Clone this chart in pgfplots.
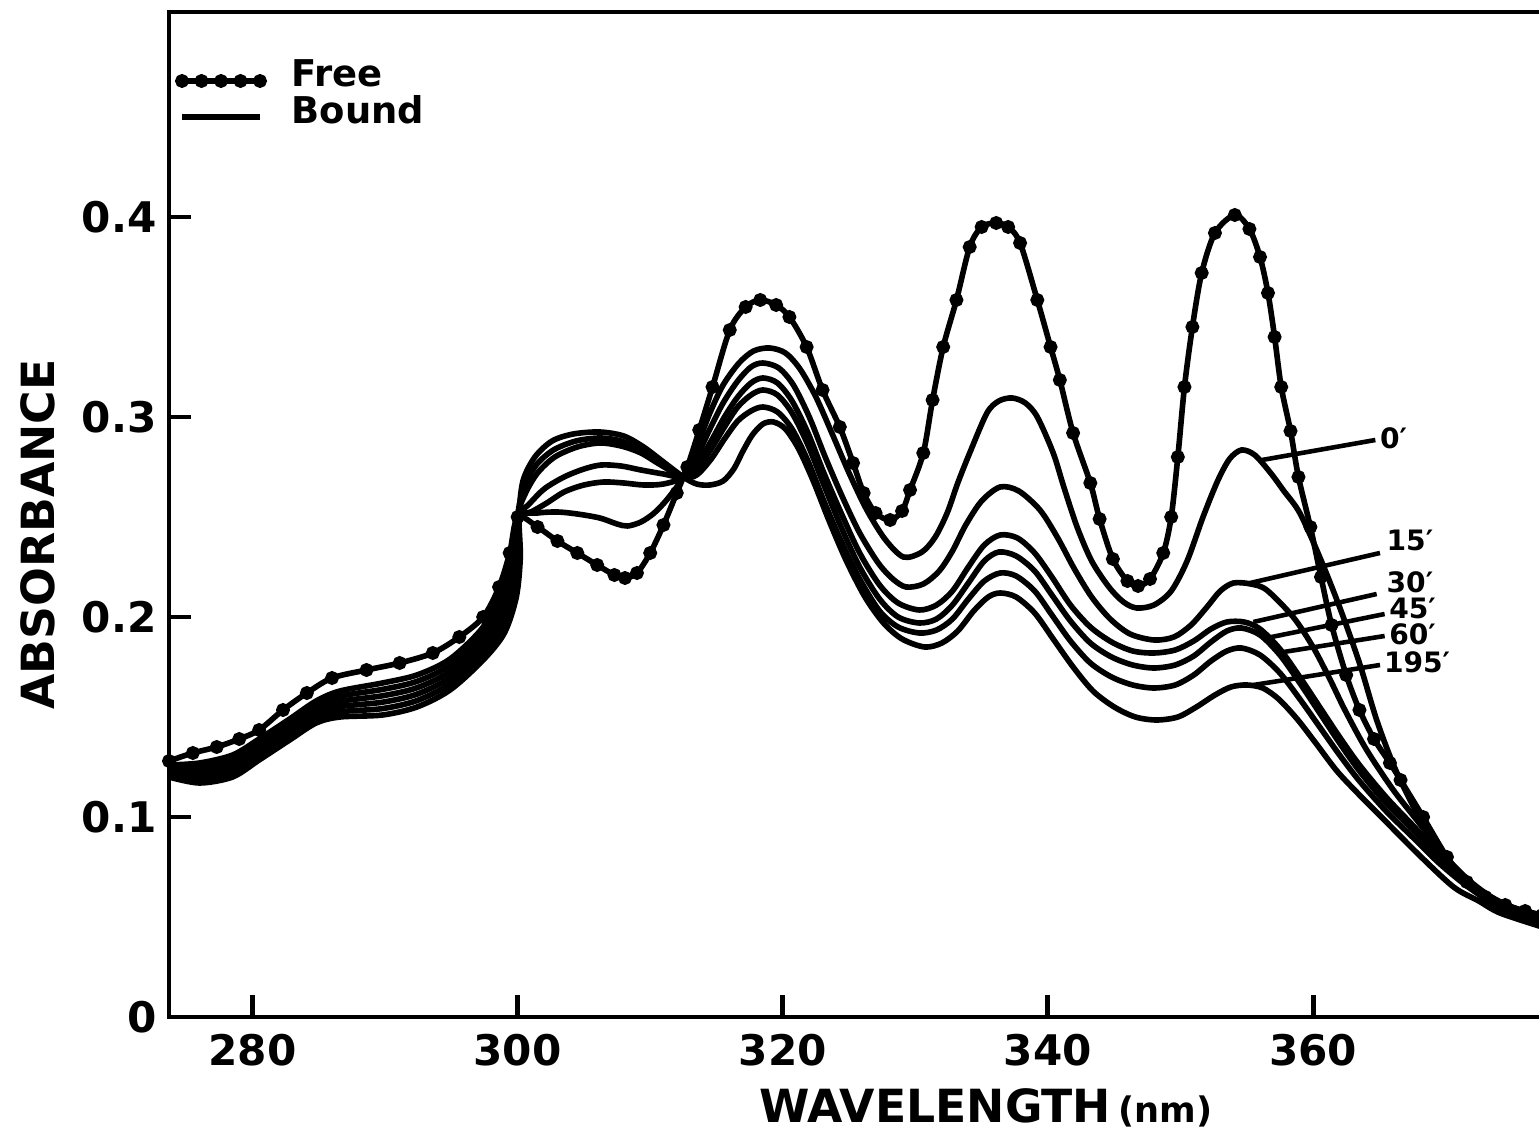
\documentclass[border=0pt]{standalone}
\usepackage{fontspec}
\setmainfont{DejaVu Sans}
\usepackage{pgfplots}
\pgfplotsset{compat=1.18}

\begin{document}
\begin{tikzpicture}
\useasboundingbox (-1.69cm,-1.29cm) rectangle (13.7cm,10.17cm);
\begin{axis}[
  scale only axis, width=13.8cm, height=10.05cm,
  xmin=273.7, xmax=377.8, ymin=0, ymax=0.5025,
  axis line style={line width=1.4pt},
  tick align=inside, major tick length=0.22cm, tick pos=left,
  tick style={line width=1.4pt, black},
  xtick={280,300,320,340,360}, xticklabels={280,300,320,340,360},
  ytick={0,0.1,0.2,0.3,0.4}, yticklabels={0,0.1,0.2,0.3,0.4},
  ticklabel style={font=\bfseries\fontsize{12}{14}\selectfont},
  xticklabel style={yshift=-0.05cm},
  xlabel={WAVELENGTH\,{\fontsize{10}{12}\selectfont(nm)}},
  ylabel={ABSORBANCE},
  label style={font=\bfseries\fontsize{13}{15}\selectfont},
  xlabel style={at={(axis description cs:0.592,-0.0905)}, anchor=center},
  ylabel style={at={(axis description cs:-0.0949,0.48)}, anchor=center},
  legend style={at={(axis description cs:0.006,0.96)}, anchor=north west, draw=none, fill=none,
     font=\bfseries\fontsize{10.5}{12}\selectfont, inner sep=0pt, row sep=-3pt},
  legend cell align=left,
  legend image code/.code={\draw[#1] plot coordinates {(0cm,-0.05cm) (0.195cm,-0.05cm) (0.39cm,-0.05cm) (0.585cm,-0.05cm) (0.78cm,-0.05cm)}; \path (1.0cm,0cm);},
  every axis plot/.append style={line width=1.6pt, black, smooth, tension=0.5},
  clip=false,
]
% Free
\addplot[mark=*, mark size=1.15pt] coordinates {(273.7,0.128)(275.5,0.132)(277.3,0.135)(279,0.139)(280.5,0.1435)(282.3,0.1535)(284.1,0.162)(286,0.1695)(288.6,0.1735)(291.1,0.177)(293.6,0.182)(295.6,0.19)(297.4,0.2)(298.6,0.215)(299.4,0.232)(300,0.25)(301.5,0.245)(303,0.238)(304.5,0.232)(306,0.226)(307.3,0.221)(308.1,0.2195)(309,0.222)(310,0.232)(311,0.246)(312,0.262)(312.8,0.275)(313.7,0.2935)(314.7,0.315)(316,0.3435)(317.2,0.355)(318.3,0.3585)(319.5,0.356)(320.5,0.35)(321.8,0.335)(323,0.3135)(324.3,0.295)(325.3,0.277)(326.1,0.262)(327,0.252)(328.1,0.2485)(329,0.253)(329.6,0.2635)(330.6,0.282)(331.3,0.3085)(332.1,0.335)(333.1,0.3585)(334.1,0.385)(335,0.395)(336.1,0.397)(337,0.395)(337.9,0.387)(339.2,0.3585)(340.2,0.335)(340.9,0.3185)(341.9,0.292)(343.2,0.267)(343.9,0.249)(344.9,0.229)(346,0.218)(346.8,0.2155)(347.7,0.219)(348.7,0.232)(349.3,0.25)(349.8,0.28)(350.3,0.315)(350.9,0.345)(351.6,0.372)(352.6,0.392)(354.1,0.401)(355.2,0.394)(356,0.38)(356.6,0.362)(357.1,0.34)(357.6,0.315)(358.3,0.293)(358.9,0.27)(359.8,0.245)(360.6,0.22)(361.4,0.196)(362.5,0.171)(363.5,0.1535)(364.6,0.139)(365.8,0.127)(366.6,0.1185)(368.3,0.1)(370.1,0.08)(371.6,0.0675)(373,0.06)(374.5,0.056)(376,0.053)(377.3,0.051)};
\addlegendentry{Free}
% Bound 0'
\addplot[black] coordinates {(273.7,0.126)(276,0.127)(278.5,0.131)(280.5,0.139)(282.8,0.149)(284.8,0.158)(286.6,0.163)(289.8,0.167)(292.4,0.171)(294.9,0.179)(297.4,0.195)(299,0.215)(299.7,0.232)(300,0.25)(301.5,0.252)(303,0.2525)(304.5,0.2515)(306.2,0.2495)(307.5,0.2465)(308.3,0.2455)(309.3,0.2475)(310.3,0.252)(311.3,0.259)(312.5,0.27)(313.5,0.285)(314.5,0.302)(315.5,0.316)(316.7,0.327)(317.8,0.333)(319,0.3345)(320.2,0.332)(321.3,0.324)(322.5,0.31)(323.7,0.292)(325,0.272)(326.3,0.254)(327.7,0.239)(329.1,0.23)(330.5,0.2325)(331.5,0.24)(332.4,0.252)(333.2,0.267)(334.1,0.282)(335.4,0.302)(336.3,0.308)(337.3,0.3095)(338.3,0.307)(339.2,0.3)(340.4,0.282)(341.2,0.265)(342.2,0.245)(343.3,0.228)(344.6,0.215)(345.7,0.2075)(346.7,0.2045)(348,0.206)(349.3,0.213)(350.5,0.228)(351.7,0.25)(352.8,0.268)(353.7,0.279)(354.6,0.2835)(355.6,0.281)(356.8,0.272)(357.8,0.263)(359,0.252)(360.5,0.23)(362,0.205)(363.5,0.177)(364.8,0.1485)(366.2,0.124)(368,0.1)(370,0.08)(371.6,0.0685)(373.5,0.058)(375.5,0.051)(377.3,0.047)};
\addlegendentry{Bound}
% 15'
\addplot[forget plot] coordinates {(273.7,0.1248)(276,0.125)(278.5,0.1288)(280.5,0.1369)(282.8,0.1469)(284.8,0.1558)(286.6,0.1604)(289.8,0.1638)(292.4,0.1678)(294.9,0.1759)(297.4,0.1917)(299,0.2104)(299.75,0.229)(300,0.25)(301,0.2525)(302.2,0.257)(303.5,0.2625)(305,0.266)(306.5,0.2675)(308,0.267)(309.5,0.266)(311,0.2665)(312.5,0.27)(313.5,0.28)(314.5,0.294)(315.5,0.307)(316.6,0.318)(317.6,0.325)(318.5,0.327)(319.7,0.3245)(320.8,0.316)(322,0.3)(323.2,0.28)(324.5,0.26)(325.8,0.242)(327.2,0.227)(328.3,0.219)(329.3,0.215)(330.6,0.2165)(331.8,0.223)(332.8,0.233)(333.8,0.246)(335,0.258)(336.4,0.265)(337.8,0.263)(339.4,0.2535)(340.7,0.24)(342,0.224)(343.3,0.21)(344.7,0.199)(346.2,0.1915)(348,0.1885)(349.5,0.19)(350.8,0.196)(352,0.205)(353,0.213)(354,0.217)(355.3,0.2165)(356.5,0.2135)(358.5,0.2)(360,0.185)(361.3,0.1685)(362.4,0.1535)(364,0.134)(366,0.114)(368,0.097)(370,0.08)(372,0.067)(374,0.058)(377.3,0.049)};
% 30'
\addplot[forget plot] coordinates {(273.7,0.1236)(276,0.123)(278.5,0.1266)(280.5,0.1348)(282.8,0.1448)(284.8,0.1536)(286.6,0.1578)(289.8,0.1606)(292.4,0.1646)(294.9,0.1728)(297.4,0.1884)(299,0.2058)(299.8,0.226)(300,0.25)(300.8,0.256)(302,0.264)(303.5,0.27)(305,0.274)(306.3,0.276)(307.8,0.2755)(309.3,0.2735)(311,0.2715)(312.5,0.27)(313.5,0.276)(314.6,0.288)(315.6,0.3)(316.6,0.31)(317.6,0.317)(318.5,0.3195)(319.6,0.317)(320.7,0.308)(321.9,0.292)(323.1,0.272)(324.4,0.252)(325.8,0.232)(327.3,0.216)(328.7,0.207)(330.3,0.2035)(331.6,0.206)(332.8,0.213)(334,0.225)(335.2,0.236)(336.4,0.241)(337.7,0.2395)(339,0.232)(340.3,0.22)(341.7,0.206)(343.2,0.195)(344.8,0.1875)(346.4,0.183)(348,0.182)(349.6,0.1835)(351,0.188)(352.3,0.194)(353.5,0.1975)(354.8,0.1975)(356,0.194)(357.5,0.184)(359,0.17)(360.5,0.155)(362,0.14)(363.5,0.126)(365.5,0.11)(367.5,0.096)(369.5,0.082)(371.5,0.069)(373.5,0.059)(375.5,0.052)(377.3,0.048)};
% 45'
\addplot[forget plot] coordinates {(273.7,0.1224)(276,0.121)(278.5,0.1244)(280.5,0.1327)(282.8,0.1427)(284.8,0.1514)(286.6,0.1552)(289.8,0.1574)(292.4,0.1614)(294.9,0.1697)(297.4,0.1851)(299,0.2012)(299.85,0.222)(300,0.25)(300.6,0.262)(301.5,0.272)(302.8,0.28)(304.5,0.285)(306.2,0.287)(307.8,0.2855)(309.3,0.282)(310.8,0.276)(312.5,0.27)(313.5,0.2735)(314.6,0.284)(315.6,0.295)(316.6,0.305)(317.6,0.311)(318.5,0.3135)(319.6,0.311)(320.7,0.302)(321.9,0.286)(323.1,0.266)(324.4,0.245)(325.8,0.225)(327.3,0.209)(328.7,0.2)(330.3,0.197)(331.6,0.199)(332.8,0.206)(334,0.217)(335.2,0.228)(336.3,0.2325)(337.6,0.2305)(339,0.223)(340.3,0.211)(341.7,0.198)(343.2,0.187)(344.8,0.18)(346.4,0.176)(348,0.1745)(349.6,0.176)(351,0.1805)(352.3,0.1875)(353.5,0.193)(354.6,0.1945)(356,0.191)(357.5,0.181)(359,0.167)(360.5,0.152)(362,0.137)(363.5,0.123)(365.5,0.107)(367.5,0.094)(369.5,0.08)(371.5,0.068)(373.5,0.058)(375.5,0.051)(377.3,0.047)};
% 60'
\addplot[forget plot] coordinates {(273.7,0.1212)(276,0.119)(278.5,0.1222)(280.5,0.1306)(282.8,0.1406)(284.8,0.1492)(286.6,0.1526)(289.8,0.1542)(292.4,0.1582)(294.9,0.1666)(297.4,0.1818)(299,0.1966)(299.9,0.218)(300,0.25)(300.5,0.265)(301.4,0.276)(302.7,0.2835)(304.4,0.288)(306.2,0.2895)(307.8,0.288)(309.3,0.2835)(310.8,0.277)(312.5,0.27)(313.5,0.271)(314.6,0.279)(315.6,0.289)(316.6,0.298)(317.6,0.303)(318.5,0.305)(319.6,0.3025)(320.7,0.294)(321.9,0.278)(323.1,0.258)(324.4,0.238)(325.8,0.219)(327.3,0.203)(328.7,0.195)(330.3,0.192)(331.6,0.1935)(332.8,0.199)(334,0.209)(335.2,0.218)(336.4,0.222)(337.6,0.2205)(339,0.213)(340.3,0.201)(341.7,0.188)(343.2,0.177)(344.8,0.17)(346.4,0.166)(348,0.1645)(349.6,0.166)(351,0.171)(352.3,0.178)(353.5,0.183)(354.6,0.1845)(356,0.181)(357.5,0.172)(359,0.159)(360.5,0.145)(362,0.131)(363.5,0.118)(365.5,0.103)(367.5,0.09)(369.5,0.077)(371.5,0.066)(373.5,0.057)(375.5,0.05)(377.3,0.046)};
% 195'
\addplot[forget plot] coordinates {(273.7,0.12)(276,0.117)(278.5,0.12)(280.5,0.1285)(282.8,0.1385)(284.8,0.147)(286.6,0.15)(289.8,0.151)(292.4,0.155)(294.9,0.1635)(297.4,0.1785)(299,0.192)(299.9,0.21)(300.2,0.23)(300.1,0.25)(300.4,0.268)(301.3,0.28)(302.6,0.288)(304.2,0.2915)(306.2,0.2925)(308,0.2905)(309.5,0.285)(311,0.2775)(312.5,0.27)(313.5,0.2665)(314.5,0.266)(315.5,0.268)(316.3,0.274)(317,0.283)(317.7,0.291)(318.5,0.2965)(319.3,0.2975)(320.2,0.294)(321.2,0.284)(322.3,0.268)(323.5,0.248)(324.8,0.228)(326.2,0.21)(327.6,0.197)(329,0.189)(330.7,0.185)(332,0.187)(333.2,0.193)(334.4,0.203)(335.5,0.21)(336.4,0.212)(337.6,0.21)(339,0.202)(340.4,0.189)(341.9,0.175)(343.4,0.163)(345,0.155)(346.6,0.15)(348.2,0.1485)(349.8,0.15)(351.2,0.155)(352.6,0.161)(353.8,0.165)(355,0.166)(356.2,0.1645)(357.4,0.159)(358.8,0.149)(360.2,0.137)(361.8,0.123)(363.5,0.111)(365.6,0.097)(368,0.081)(370.6,0.065)(372.5,0.058)(374.1,0.052)(377.3,0.045)};
% leader lines and labels
\draw[line width=1.3pt] (axis cs:356.15,0.2785) -- (axis cs:364.7,0.2885);
\draw[line width=1.3pt] (axis cs:355.25,0.217) -- (axis cs:365.05,0.232);
\draw[line width=1.3pt] (axis cs:355.5,0.1975) -- (axis cs:364.8,0.2115);
\draw[line width=1.3pt] (axis cs:356.5,0.1895) -- (axis cs:365.4,0.2015);
\draw[line width=1.3pt] (axis cs:357.3,0.182) -- (axis cs:365.4,0.1905);
\draw[line width=1.3pt] (axis cs:355.5,0.166) -- (axis cs:365.05,0.176);
\begin{scope}[every node/.style={anchor=west, inner sep=0pt, font=\bfseries\fontsize{8}{9}\selectfont}]
\node at (axis cs:365.0,0.2895) {0′};
\node at (axis cs:365.5,0.2385) {15′};
\node at (axis cs:365.5,0.2175) {30′};
\node at (axis cs:365.7,0.2045) {45′};
\node at (axis cs:365.7,0.1915) {60′};
\node at (axis cs:365.3,0.1775) {195′};
\end{scope}
\end{axis}
\end{tikzpicture}
\end{document}
